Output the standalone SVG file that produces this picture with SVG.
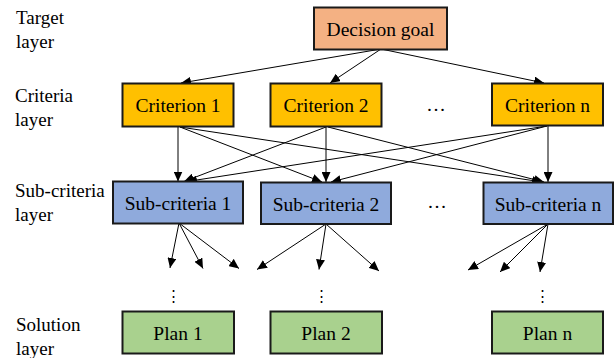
<svg xmlns="http://www.w3.org/2000/svg" width="616" height="358" viewBox="0 0 616 358" font-family="'Liberation Serif', 'Times New Roman', Tinos, 'DejaVu Serif', serif">
  <style>
    .box { stroke: #1a1a1a; stroke-width: 2; }
    .goal { fill: #F4B183; }
    .crit { fill: #FFC000; }
    .sub { fill: #8FAADC; }
    .plan { fill: #A9D18E; }
    .lbl { font-size: 19.5px; text-anchor: middle; }
    .side { font-size: 19px; }
    .dots { font-size: 19.5px; text-anchor: middle; }
    .vdots { font-size: 15px; text-anchor: middle; }
    .edge { stroke: #000; stroke-width: 1; fill: none; marker-end: url(#arrow); }
  </style>
  <defs>
    <marker id="arrow" markerUnits="userSpaceOnUse" markerWidth="11" markerHeight="9" refX="10" refY="4.5" orient="auto">
      <path d="M0,0 L10,4.5 L0,9 z" fill="#000"/>
    </marker>
  </defs>
  <rect width="616" height="358" fill="#fff"/>

  <!-- layer captions -->
  <g id="layer-labels">
    <text class="side" x="16" y="24">Target</text>
    <text class="side" x="16" y="48">layer</text>
    <text class="side" x="15" y="102">Criteria</text>
    <text class="side" x="15" y="126">layer</text>
    <text class="side" x="15" y="197">Sub-criteria</text>
    <text class="side" x="15" y="221">layer</text>
    <text class="side" x="16" y="331">Solution</text>
    <text class="side" x="16" y="355">layer</text>
  </g>

  <!-- connectors -->
  <g id="connectors">
    <line class="edge" x1="381" y1="49" x2="181" y2="83"/>
    <line class="edge" x1="381" y1="49" x2="330" y2="83"/>
    <line class="edge" x1="381" y1="49" x2="544" y2="83"/>

    <line class="edge" x1="178" y1="127" x2="178" y2="181.5"/>
    <line class="edge" x1="180" y1="127" x2="322" y2="182"/>
    <line class="edge" x1="180" y1="127" x2="542" y2="182"/>
    <line class="edge" x1="326" y1="127" x2="184" y2="181.5"/>
    <line class="edge" x1="326" y1="127" x2="326" y2="182"/>
    <line class="edge" x1="328" y1="127" x2="544" y2="182"/>
    <line class="edge" x1="547" y1="126" x2="187" y2="181.5"/>
    <line class="edge" x1="547" y1="126" x2="331" y2="182"/>
    <line class="edge" x1="548" y1="126" x2="548" y2="182"/>

    <line class="edge" x1="179" y1="223" x2="170" y2="268"/>
    <line class="edge" x1="179" y1="223" x2="203" y2="268.5"/>
    <line class="edge" x1="179" y1="223" x2="239" y2="268.5"/>
    <line class="edge" x1="326" y1="224" x2="257" y2="269.5"/>
    <line class="edge" x1="326" y1="224" x2="319" y2="269.5"/>
    <line class="edge" x1="326" y1="224" x2="379" y2="271"/>
    <line class="edge" x1="548" y1="224" x2="468" y2="270"/>
    <line class="edge" x1="548" y1="224" x2="500" y2="272"/>
    <line class="edge" x1="548" y1="224" x2="540" y2="272"/>
  </g>

  <!-- target layer -->
  <g id="node-goal">
    <rect class="box goal" x="314" y="7.5" width="133" height="42"/>
    <text class="lbl" x="380.5" y="35.5">Decision goal</text>
  </g>

  <!-- criteria layer -->
  <g id="node-criterion-1">
    <rect class="box crit" x="122.5" y="83.5" width="111" height="43"/>
    <text class="lbl" x="178" y="112">Criterion 1</text>
  </g>
  <g id="node-criterion-2">
    <rect class="box crit" x="270.5" y="83.5" width="111" height="43"/>
    <text class="lbl" x="326" y="112">Criterion 2</text>
  </g>
  <g id="node-criterion-n">
    <rect class="box crit" x="492" y="83.5" width="111" height="42"/>
    <text class="lbl" x="547.5" y="112">Criterion n</text>
  </g>
  <text class="dots" x="436" y="111">…</text>

  <!-- sub-criteria layer -->
  <g id="node-sub-1">
    <rect class="box sub" x="113" y="181.5" width="130" height="42"/>
    <text class="lbl" x="178" y="209.5">Sub-criteria 1</text>
  </g>
  <g id="node-sub-2">
    <rect class="box sub" x="261" y="182.5" width="130" height="41.5"/>
    <text class="lbl" x="326" y="210.5">Sub-criteria 2</text>
  </g>
  <g id="node-sub-n">
    <rect class="box sub" x="483.5" y="182.5" width="129.5" height="41.5"/>
    <text class="lbl" x="548" y="210.5">Sub-criteria n</text>
  </g>
  <text class="dots" x="437" y="208">…</text>

  <!-- continuation marks -->
  <text class="vdots" x="173.5" y="301">⋮</text>
  <text class="vdots" x="321" y="301">⋮</text>
  <text class="vdots" x="542" y="301">⋮</text>

  <!-- solution layer -->
  <g id="node-plan-1">
    <rect class="box plan" x="122.5" y="311.5" width="111.5" height="42"/>
    <text class="lbl" x="178" y="339.5">Plan 1</text>
  </g>
  <g id="node-plan-2">
    <rect class="box plan" x="270.5" y="311.5" width="111.5" height="42"/>
    <text class="lbl" x="326" y="339.5">Plan 2</text>
  </g>
  <g id="node-plan-n">
    <rect class="box plan" x="492" y="311.5" width="111" height="42"/>
    <text class="lbl" x="547.5" y="339.5">Plan n</text>
  </g>
</svg>
